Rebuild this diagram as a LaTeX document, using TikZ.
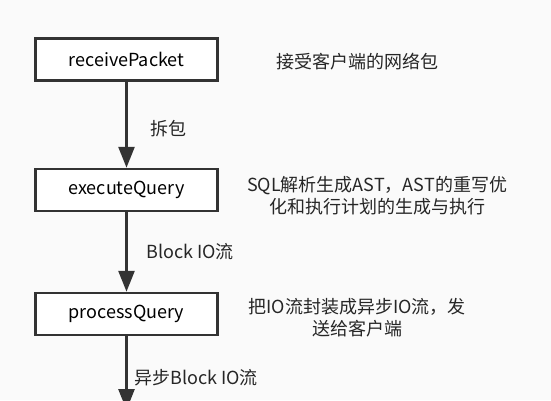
\documentclass[tikz,border=0pt]{standalone}
\usepackage{fontspec}
\setmainfont{Noto Sans CJK SC}
\usetikzlibrary{arrows.meta}
\begin{document}
\begin{tikzpicture}[x=1pt, y=-1pt,
		stepbox/.style={rectangle, draw=sdark, line width=2.5pt, fill=white, minimum width=182pt, minimum height=42pt, inner sep=0},
		flow/.style={draw=sdark, line width=2.5pt, -{Triangle[length=21pt, width=16pt]}},
		lbl/.style={text=stext, inner sep=0, anchor=west},
		desc/.style={text=stext, inner sep=0, align=center}]
		\colorlet{sdark}{black!80}
		\colorlet{stext}{black!85}
		\fill[black!2] (0,0) rectangle (551,400);
		\useasboundingbox (0,0) rectangle (551,400);
		\fontsize{18}{22}\selectfont
		\node (recv) at (126.5,59.5) [stepbox] {receivePacket};
		\node (exec) at (126.5,190) [stepbox] {executeQuery};
		\node (proc) at (126.5,314) [stepbox] {processQuery};
		\coordinate (out) at (126.5,410);
		\draw[flow] (recv) -- (exec);
		\draw[flow] (exec) -- (proc);
		\draw[flow] (proc) -- (out);
		\node (chaibao) at (150,129) [lbl] {拆包};
		\node (blockio) at (146,252) [lbl] {Block IO流};
		\node (asyncio) at (134,378) [lbl] {异步Block IO流};
		\node (recvdesc) at (357,62) [desc] {接受客户端的网络包};
		\node (execdesc) at (377,196) [desc] {SQL解析生成AST，AST的重写优\\化和执行计划的生成与执行};
		\node (procdesc) at (357,318) [desc] {把IO流封装成异步IO流，发\\送给客户端};
	\end{tikzpicture}
\end{document}
